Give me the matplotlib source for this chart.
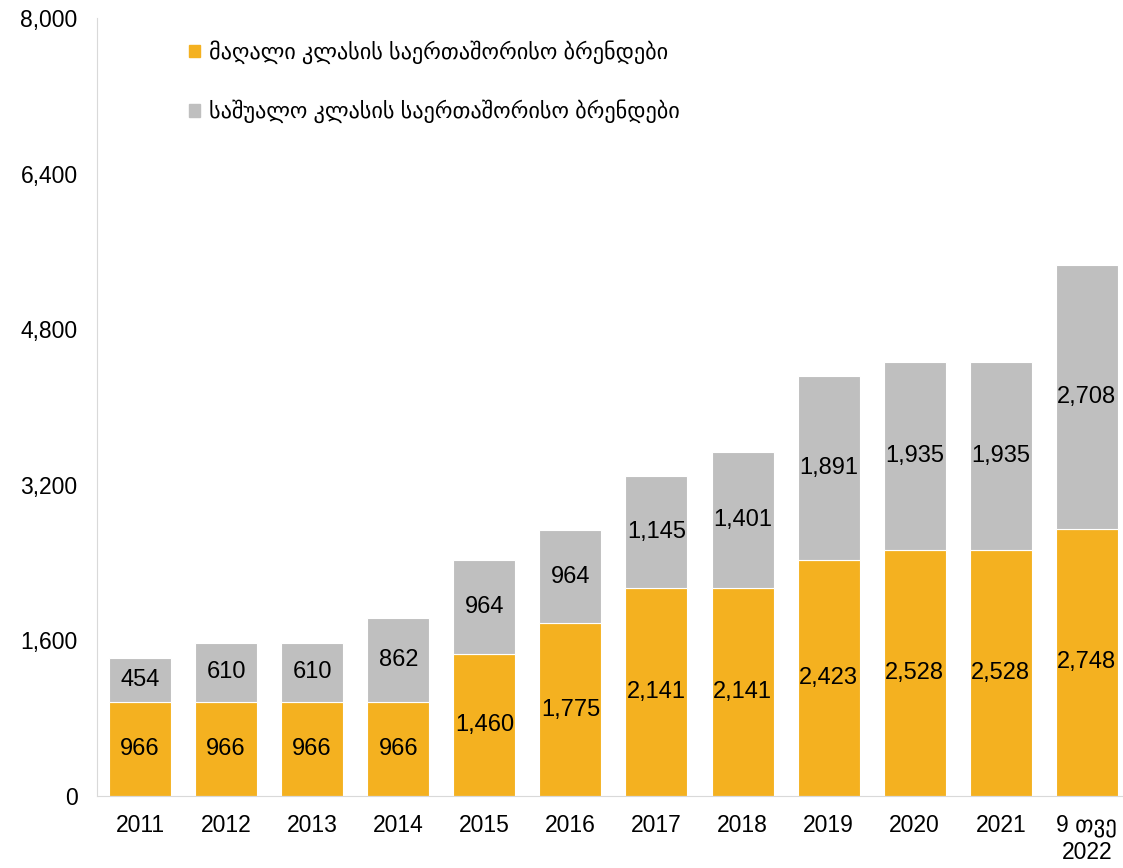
import numpy as np
import matplotlib
matplotlib.use('Agg')
import matplotlib.pyplot as plt
from matplotlib.patches import Patch
from matplotlib.ticker import FuncFormatter

plt.rcParams['font.family'] = ['Liberation Sans', 'DejaVu Sans']

## data
years = ['2011', '2012', '2013', '2014', '2015', '2016', '2017', '2018',
         '2019', '2020', '2021', '9 თვე\n2022']
high_class = [966, 966, 966, 966, 1460, 1775, 2141, 2141, 2423, 2528, 2528, 2748]
mid_class = [454, 610, 610, 862, 964, 964, 1145, 1401, 1891, 1935, 1935, 2708]
high_label = 'მაღალი კლასის საერთაშორისო ბრენდები'
mid_label = 'საშუალო კლასის საერთაშორისო ბრენდები'
yticks = [0, 1600, 3200, 4800, 6400, 8000]

c_high = '#F4B120'
c_mid = '#BFBFBF'

fig = plt.figure(figsize=(11.23, 8.68), dpi=100)
ax = fig.add_axes([97/1123, 1-796/868, 1-97/1123, (796-18)/868])

x = np.arange(len(years))
b1 = ax.bar(x, high_class, width=0.72, color=c_high, edgecolor='white', linewidth=0.8)
b2 = ax.bar(x, mid_class, width=0.72, bottom=high_class, color=c_mid,
            edgecolor='white', linewidth=0.8)

fmt = lambda v: f'{v:,.0f}'
ax.bar_label(b1, labels=[fmt(v) for v in high_class], label_type='center', fontsize=17)
ax.bar_label(b2, labels=[fmt(v) for v in mid_class], label_type='center', fontsize=17)

ax.set_ylim(0, 8000)
ax.set_xlim(-0.5, 11.42)
ax.set_yticks(yticks)
ax.yaxis.set_major_formatter(FuncFormatter(lambda v, p: f'{v:,.0f}'))
ax.set_xticks(x)
ax.set_xticklabels(years, linespacing=1.2)
ax.tick_params(length=0, labelsize=16.5)
ax.tick_params(axis='y', pad=14)
ax.tick_params(axis='x', pad=13)
for s in ['top', 'right']:
    ax.spines[s].set_visible(False)
for s in ['left', 'bottom']:
    ax.spines[s].set_color('#D9D9D9')

handles = [Patch(color=c_high), Patch(color=c_mid)]
ax.legend(handles, [high_label, mid_label], loc='upper left',
          bbox_to_anchor=(0.07, 0.997), frameon=False, fontsize=16,
          handlelength=0.5, handleheight=0.5, handletextpad=0.4, labelspacing=1.6)

fig.savefig('out.png', dpi=100)
